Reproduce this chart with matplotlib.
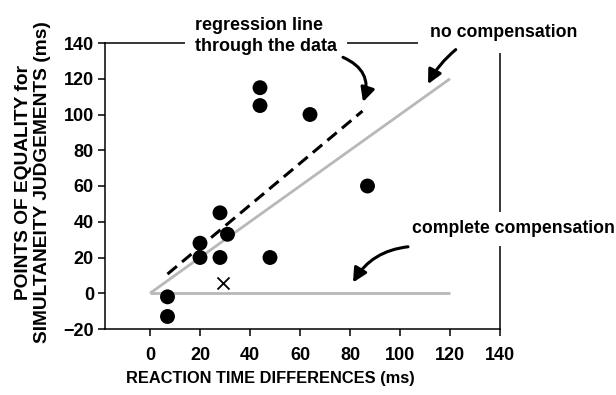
import numpy as np
import matplotlib.pyplot as plt

# data
rt_diff = [7, 7, 20, 20, 28, 28, 31, 44, 44, 48, 64, 87]      # reaction time differences (ms)
pes = [-13, -2, 20, 28, 45, 20, 33, 115, 105, 20, 100, 60]    # points of equality (ms)
cross_rt = [29]
cross_pes = [6]
model_x = [0, 120]          # range of the two model lines
reg_span = [7, 85]          # x-range of the drawn regression line
xticks = [0, 20, 40, 60, 80, 100, 120, 140]
yticks = [-20, 0, 20, 40, 60, 80, 100, 120, 140]

plt.rcParams['font.family'] = ['Liberation Sans', 'DejaVu Sans']
plt.rcParams['font.weight'] = 'bold'

GRAY = '#b8b8b8'

fig = plt.figure(figsize=(6.16, 3.95), dpi=100)
ax = fig.add_axes([105/616, 1 - 329/395, 395/616, 286/395])

# model lines
ax.plot(model_x, model_x, color=GRAY, lw=2.0, solid_capstyle='butt', zorder=2)
ax.plot(model_x, [0, 0], color=GRAY, lw=2.0, solid_capstyle='butt', zorder=2)

# regression through the data
slope, icpt = np.polyfit(rt_diff, pes, 1)
rx = np.array(reg_span)
ax.plot(rx, icpt + slope * rx, color='black', lw=2.2, dashes=(4, 2.2), zorder=3)

ax.scatter(rt_diff, pes, s=115, color='black', edgecolors='none', zorder=4)
ax.scatter(cross_rt, cross_pes, s=75, marker='x', color='black', linewidths=1.3, zorder=4)

ax.set_xlim(-18, 140)
ax.set_ylim(-20, 140)
ax.set_xticks(xticks)
ax.set_yticks(yticks)
for s in ax.spines.values():
    s.set_linewidth(1.1)
ax.tick_params(axis='both', labelsize=13, width=1.1, length=5)
ax.tick_params(axis='x', pad=8)
ax.tick_params(axis='y', pad=3)
for lab in ax.get_xticklabels() + ax.get_yticklabels():
    lab.set_fontweight('bold')

box = dict(facecolor='white', edgecolor='none', pad=7)
ax.text(18, 144, 'regression line\nthrough the data', ha='left', va='center',
        fontsize=13, fontweight='bold', linespacing=1.3, bbox=box, clip_on=False, zorder=6)
ax.text(112, 146, 'no compensation', ha='left', va='center',
        fontsize=12.8, fontweight='bold', bbox=dict(facecolor='white', edgecolor='none', pad=9),
        clip_on=False, zorder=6)
ax.text(104.8, 36, 'complete compensation', ha='left', va='center',
        fontsize=12.7, fontweight='bold', bbox=dict(facecolor='white', edgecolor='none', pad=6),
        clip_on=False, zorder=6)

arrow = dict(arrowstyle='-|>,head_length=0.7,head_width=0.35', color='black',
             lw=2.2, mutation_scale=12, shrinkA=0, shrinkB=0)
ax.annotate('', xy=(85.2, 107), xytext=(77.2, 132),
            arrowprops=dict(connectionstyle='arc3,rad=-0.45', **arrow), zorder=7)
ax.annotate('', xy=(111.2, 117), xytext=(122.3, 136.3),
            arrowprops=dict(connectionstyle='arc3,rad=0.1', **arrow), zorder=7)
ax.annotate('', xy=(81.2, 6), xytext=(103.2, 26),
            arrowprops=dict(connectionstyle='arc3,rad=0.25', **arrow), zorder=7)

fig.text(33/616, 1 - 182/395, 'POINTS OF EQUALITY for\nSIMULTANEITY JUDGEMENTS (ms)',
         rotation=90, ha='center', va='center', multialignment='center',
         fontsize=13.8, fontweight='bold', linespacing=1.2)
fig.text(270/616, 1 - 379/395, 'REACTION TIME DIFFERENCES (ms)',
         ha='center', va='center', fontsize=11.8, fontweight='bold')

fig.savefig('out.png', dpi=100)
